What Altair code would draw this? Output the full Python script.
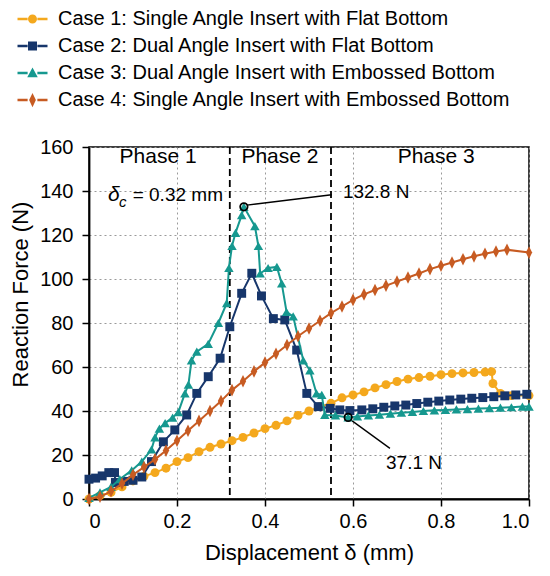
import altair as alt
import pandas as pd

# ---------------- data ----------------
CASES = [
    "Case 1: Single Angle Insert with Flat Bottom",
    "Case 2: Dual Angle Insert with Flat Bottom",
    "Case 3: Dual Angle Insert with Embossed Bottom",
    "Case 4: Single Angle Insert with Embossed Bottom",
]
COLORS = ["#F4A81D", "#17366B", "#16988F", "#C75B22"]

D1 = [0, 0.025, 0.05, 0.075, 0.1, 0.125, 0.15, 0.175, 0.2, 0.225, 0.25, 0.275, 0.3,
      0.325, 0.35, 0.375, 0.4, 0.425, 0.45, 0.475, 0.5, 0.525, 0.55, 0.575, 0.6,
      0.625, 0.65, 0.675, 0.7, 0.725, 0.75, 0.775, 0.8, 0.825, 0.85, 0.875, 0.9,
      0.915, 0.918, 0.935, 0.96, 1.0]
F1 = [0, 1.5, 3, 5.5, 8.2, 10.3, 12, 14, 17, 18.8, 21.5, 23.5, 25, 26.5, 28, 30, 32,
      33.5, 35.5, 38, 40, 42, 43.5, 46, 47.3, 48.7, 50.5, 52, 53.4, 54.5, 55.2, 55.8,
      56.5, 57, 57.3, 57.5, 57.7, 57.9, 52.5, 48, 47, 47]

D2 = [0, 0.015, 0.03, 0.045, 0.058, 0.06, 0.08, 0.1, 0.12, 0.142, 0.169, 0.195, 0.222,
      0.245, 0.271, 0.298, 0.32, 0.347, 0.37, 0.392, 0.419, 0.445, 0.472, 0.495, 0.521,
      0.548, 0.57, 0.593, 0.62, 0.645, 0.67, 0.695, 0.72, 0.745, 0.77, 0.795, 0.82,
      0.845, 0.87, 0.895, 0.92, 0.945, 0.97, 0.995]
F2 = [9, 9.5, 10.5, 12, 12, 7.5, 8, 8.5, 10, 17, 26, 31.4, 38.2, 48, 55.6, 64, 78.3,
      93.5, 102.6, 92.3, 82, 81.4, 67.7, 48, 42, 41.2, 40.5, 40.2, 40.5, 41, 41.7,
      42.3, 42.7, 43.4, 44, 44.5, 45, 45.4, 45.8, 46.1, 46.5, 46.9, 47.3, 47.6]

D3 = [0, 0.025, 0.05, 0.07, 0.097, 0.12, 0.142, 0.15, 0.16, 0.173, 0.19, 0.203, 0.218,
      0.226, 0.233, 0.245, 0.271, 0.294, 0.313, 0.318, 0.325, 0.333, 0.347, 0.352,
      0.377, 0.385, 0.389, 0.407, 0.427, 0.438, 0.449, 0.464, 0.487, 0.502, 0.517,
      0.529, 0.536, 0.56, 0.589, 0.61, 0.635, 0.66, 0.685, 0.71, 0.735, 0.76, 0.785,
      0.81, 0.835, 0.86, 0.885, 0.91, 0.935, 0.96, 0.985, 1.0]
F3 = [0.5, 3, 5.5, 9, 13, 17, 22.5, 28, 32, 34.5, 37, 39.5, 48, 52, 63, 67, 70.5, 80,
      89, 105, 115, 121, 129, 132.8, 124, 115, 102.5, 105, 105.5, 98, 85, 83, 63,
      58.5, 48, 47.3, 38.2, 38, 37.1, 37.5, 38, 38.3, 38.8, 39.2, 39.6, 40, 40.3,
      40.5, 40.7, 40.9, 41.1, 41.3, 41.5, 41.7, 42, 42]

D4 = [0, 0.025, 0.05, 0.075, 0.1, 0.125, 0.15, 0.175, 0.2, 0.225, 0.25, 0.275, 0.3,
      0.325, 0.35, 0.375, 0.4, 0.425, 0.45, 0.475, 0.5, 0.525, 0.55, 0.575, 0.6,
      0.625, 0.65, 0.675, 0.7, 0.725, 0.75, 0.775, 0.8, 0.825, 0.85, 0.875, 0.9,
      0.925, 0.95, 1.0]
F4 = [0, 1, 3.5, 7, 11, 14.5, 18, 22, 26.5, 31, 35.5, 40, 44.5, 49.5, 53.5, 58, 62,
      66, 70, 74, 77.5, 81, 84.5, 87.5, 90.5, 93, 95, 97, 98.8, 100.7, 102.5, 104.5,
      106, 107.5, 109, 110.3, 111.5, 112.5, 113.3, 112]

SERIES_D = [D1, D2, D3, D4]
SERIES_F = [F1, F2, F3, F4]

PHASE_LABELS = ["Phase 1", "Phase 2", "Phase 3"]
PHASE_D = [0.157, 0.434, 0.789]
PHASE_F = [155.6, 155.6, 155.6]

DASH_D = [0.32, 0.55]

MARK_D = [0.352, 0.589]
MARK_F = [132.8, 37.1]
LEAD_D0 = [0.359, 0.598]
LEAD_F0 = [133.6, 35.5]
LEAD_D1 = [0.5516, 0.684]
LEAD_F1 = [138.3, 23.0]
VAL_TEXT = ["132.8 N", "37.1 N"]
VAL_D = [0.577, 0.675]
VAL_F = [139.7, 16.4]

X_TICKS = [0, 0.2, 0.4, 0.6, 0.8, 1.0]
Y_TICKS = [0, 20, 40, 60, 80, 100, 120, 140, 160]

FONT = "Liberation Sans"

# marker shapes
DIAMOND = "M0,-1L0.5,0L0,1L-0.5,0Z"
PLOT_SHAPES = ["circle", "square", "triangle-up", DIAMOND]
PLOT_SIZES = [80, 80, 90, 160]


def legend_path(marker):
    left = "M-1,-0.16L0.35,-0.16L0.35,0.16L-1,0.16Z"
    right = "M1.65,-0.16L3,-0.16L3,0.16L1.65,0.16Z"
    return left + right + marker


LEG_SHAPES = [
    legend_path("M0.4,0A0.6,0.6 0 1,1 1.6,0A0.6,0.6 0 1,1 0.4,0Z"),
    legend_path("M0.4,-0.6L1.6,-0.6L1.6,0.6L0.4,0.6Z"),
    legend_path("M1,-0.72L1.7,0.55L0.3,0.55Z"),
    legend_path("M1,-0.95L1.45,0L1,0.95L0.55,0Z"),
]

# ---------------- encodings ----------------
x_enc = alt.X(
    "d:Q",
    scale=alt.Scale(domain=[0, 1], nice=False, zero=False),
    axis=alt.Axis(
        values=X_TICKS,
        labelExpr="datum.value == 0 ? '0' : format(datum.value, '.1f')",
        title="Displacement δ (mm)",
        titleX=220, titleY=53, titleBaseline="middle",
        labelPadding=5,
    ),
)
y_enc = alt.Y(
    "F:Q",
    scale=alt.Scale(domain=[0, 160], nice=False),
    axis=alt.Axis(
        values=Y_TICKS,
        title="Reaction Force (N)",
        titleX=-69, titleY=147, titleAlign="center", titleBaseline="middle",
        labelPadding=9,
    ),
)

layers = []

# dashed phase separators
dash_df = pd.DataFrame({"d": DASH_D})
layers.append(
    alt.Chart(dash_df).mark_rule(color="black", strokeWidth=1.8, strokeDash=[7, 4]).encode(x=x_enc)
)

for i in range(4):
    df = pd.DataFrame({"d": SERIES_D[i], "F": SERIES_F[i]})
    base = alt.Chart(df)
    layers.append(base.mark_line(color=COLORS[i], strokeWidth=2).encode(x=x_enc, y=y_enc))
    layers.append(
        base.mark_point(shape=PLOT_SHAPES[i], filled=True, color=COLORS[i], opacity=1,
                        size=PLOT_SIZES[i], strokeWidth=0).encode(x=x_enc, y=y_enc)
    )

# legend-only layer (no marks drawn)
leg_df = pd.DataFrame({"d": [-1.0] * 4, "F": [-1.0] * 4, "case": CASES})
leg_legend = alt.Legend(
    title=None, orient="none", legendX=-74, legendY=-138,
    labelFontSize=20, labelFont=FONT, labelColor="black", labelLimit=600,
    labelOffset=23, symbolSize=225, symbolStrokeWidth=0, rowPadding=7, padding=0,
    symbolOpacity=1,
)
layers.append(
    alt.Chart(leg_df).mark_point(filled=True, opacity=1, size=225)
    .transform_filter("datum.d >= 0")
    .encode(
        x=x_enc, y=y_enc,
        color=alt.Color("case:N", scale=alt.Scale(domain=CASES, range=COLORS), legend=leg_legend),
        shape=alt.Shape("case:N", scale=alt.Scale(domain=CASES, range=LEG_SHAPES), legend=leg_legend),
    )
)

# leader lines
lead_df = pd.DataFrame({"d": LEAD_D0, "F": LEAD_F0, "d2": LEAD_D1, "F2": LEAD_F1})
layers.append(
    alt.Chart(lead_df).mark_rule(color="black", strokeWidth=1.3).encode(
        x=x_enc, y=y_enc, x2="d2:Q", y2="F2:Q")
)

# open circle markers
mark_df = pd.DataFrame({"d": MARK_D, "F": MARK_F})
layers.append(
    alt.Chart(mark_df).mark_point(shape="circle", filled=False, color="black", opacity=1,
                                  size=55, strokeWidth=1.8).encode(x=x_enc, y=y_enc)
)

# value texts
val_df = pd.DataFrame({"d": VAL_D, "F": VAL_F, "t": VAL_TEXT})
layers.append(
    alt.Chart(val_df).mark_text(align="left", baseline="middle", fontSize=19, font=FONT,
                                color="black").encode(x=x_enc, y=y_enc, text="t:N")
)

# phase labels
ph_df = pd.DataFrame({"d": PHASE_D, "F": PHASE_F, "t": PHASE_LABELS})
layers.append(
    alt.Chart(ph_df).mark_text(align="center", baseline="middle", fontSize=21, font=FONT,
                               color="black").encode(x=x_enc, y=y_enc, text="t:N")
)

# delta_c annotation
DC_MAIN = ["= 0.32 mm"]
DC_SYM = ["δ"]
DC_SUB = ["c"]
layers.append(
    alt.Chart(pd.DataFrame({"d": [0.3045], "F": [138.2], "t": DC_MAIN}))
    .mark_text(align="right", baseline="middle", fontSize=19, font=FONT, color="black")
    .encode(x=x_enc, y=y_enc, text="t:N")
)
layers.append(
    alt.Chart(pd.DataFrame({"d": [0.043], "F": [138.2], "t": DC_SYM}))
    .mark_text(align="left", baseline="middle", fontSize=21, font=FONT, fontStyle="italic",
               color="black")
    .encode(x=x_enc, y=y_enc, text="t:N")
)
layers.append(
    alt.Chart(pd.DataFrame({"d": [0.068], "F": [135.0], "t": DC_SUB}))
    .mark_text(align="left", baseline="middle", fontSize=15, font=FONT, fontStyle="italic",
               color="black")
    .encode(x=x_enc, y=y_enc, text="t:N")
)

chart = (
    alt.layer(*layers)
    .properties(
        width=440, height=352,
        autosize=alt.AutoSizeParams(type="none"),
        padding={"left": 81, "top": 139, "right": 13, "bottom": 69},
    )
    .resolve_scale(color="shared", shape="shared")
    .configure_view(stroke="black", strokeWidth=1.5)
    .configure_axis(
        labelFont=FONT, titleFont=FONT, labelFontSize=20, titleFontSize=22,
        titleFontWeight="normal", labelColor="black", titleColor="black",
        domainColor="black", domainWidth=1.8, tickColor="black", tickWidth=1.5,
        tickSize=7,
        grid=True, gridColor="#9a9a9a", gridDash=[2, 3], gridWidth=1,
    )
)

chart.save("out.html", embed_options={"renderer": "svg", "actions": False})
